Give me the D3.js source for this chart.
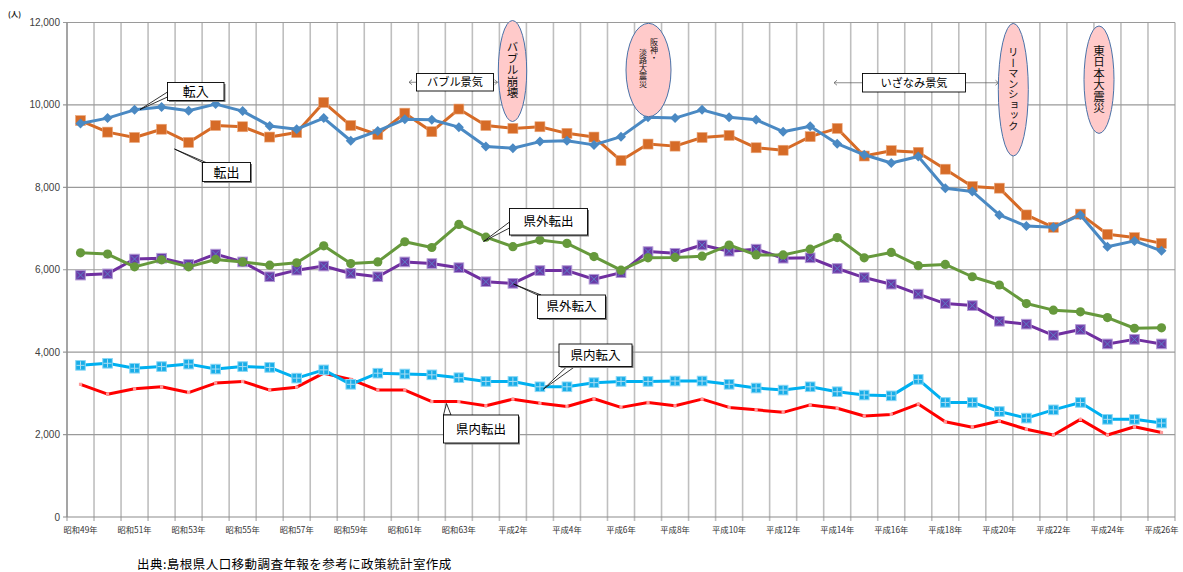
<!DOCTYPE html>
<html lang="ja">
<head>
<meta charset="utf-8">
<script src="https://cdn.jsdelivr.net/npm/d3@7"></script>
<style>
  html, body { margin: 0; padding: 0; background: #fff; }
  svg { display: block; font-family: "Noto Sans CJK JP", "Noto Sans", sans-serif; }
</style>
</head>
<body>
<svg id="chart" width="1183" height="572"></svg>
<script>
// 年次（昭和49年〜平成26年）
const years = [
  "昭和49年","昭和50年","昭和51年","昭和52年","昭和53年","昭和54年","昭和55年","昭和56年",
  "昭和57年","昭和58年","昭和59年","昭和60年","昭和61年","昭和62年","昭和63年","平成元年",
  "平成2年","平成3年","平成4年","平成5年","平成6年","平成7年","平成8年","平成9年",
  "平成10年","平成11年","平成12年","平成13年","平成14年","平成15年","平成16年","平成17年",
  "平成18年","平成19年","平成20年","平成21年","平成22年","平成23年","平成24年","平成25年","平成26年"
];

// 人数（人）
const tennyu = [9550, 9680, 9880, 9950, 9860, 10020, 9850, 9490, 9410, 9680, 9130, 9370, 9650, 9640, 9460, 8990, 8950, 9110, 9130, 9030, 9230, 9700, 9680, 9880, 9700, 9640, 9350, 9480, 9060, 8790, 8590, 8750, 7980, 7900, 7330, 7060, 7030, 7330, 6560, 6700, 6460];
const tenshutsu = [9620, 9340, 9210, 9410, 9090, 9500, 9470, 9220, 9330, 10060, 9500, 9280, 9800, 9350, 9900, 9500, 9430, 9470, 9310, 9220, 8650, 9050, 9000, 9210, 9260, 8960, 8900, 9230, 9430, 8760, 8890, 8850, 8440, 8020, 7980, 7330, 7030, 7350, 6860, 6780, 6640];
const kengaiTenshutsu = [6410, 6380, 6070, 6240, 6070, 6250, 6190, 6110, 6170, 6580, 6150, 6190, 6680, 6540, 7100, 6790, 6560, 6720, 6640, 6320, 5990, 6290, 6300, 6330, 6600, 6360, 6360, 6500, 6780, 6290, 6420, 6100, 6130, 5830, 5630, 5180, 5020, 4980, 4840, 4580, 4590];
const kengaiTennyu = [5870, 5900, 6260, 6280, 6130, 6380, 6190, 5830, 5990, 6090, 5910, 5830, 6190, 6150, 6050, 5710, 5670, 5980, 5980, 5770, 5930, 6440, 6400, 6600, 6450, 6500, 6280, 6290, 6030, 5810, 5650, 5410, 5180, 5130, 4750, 4680, 4410, 4550, 4200, 4310, 4200];
const kennaiTennyu = [3680, 3730, 3610, 3650, 3710, 3590, 3650, 3630, 3370, 3570, 3220, 3490, 3470, 3450, 3380, 3290, 3290, 3160, 3160, 3260, 3290, 3290, 3300, 3300, 3220, 3130, 3080, 3160, 3040, 2960, 2940, 3340, 2780, 2780, 2560, 2400, 2600, 2780, 2370, 2370, 2280];
const kennaiTenshutsu = [3220, 2980, 3110, 3160, 3020, 3250, 3290, 3080, 3150, 3490, 3340, 3080, 3080, 2800, 2800, 2700, 2860, 2760, 2680, 2870, 2660, 2780, 2700, 2860, 2660, 2600, 2540, 2720, 2640, 2450, 2490, 2740, 2310, 2180, 2330, 2130, 1990, 2370, 1990, 2190, 2050];

// 目盛
const yTicks = [0, 2000, 4000, 6000, 8000, 10000, 12000];

const svg = d3.select("#chart");
const plotLeft = 67, plotRight = 1175, plotTop = 22.5, plotBottom = 517;

const x = d3.scaleBand().domain(years).range([plotLeft, plotRight]).padding(0);
const y = d3.scaleLinear().domain([0, 12000]).range([plotBottom, plotTop]);
const cx = d => x(d) + x.bandwidth() / 2;

// 縦の目盛線（各年の境界）
const bounds = years.map(d => x(d)).concat([plotRight]);
svg.append("g").selectAll("line").data(bounds).join("line")
  .attr("x1", d => d).attr("x2", d => d)
  .attr("y1", plotTop).attr("y2", plotBottom + 4)
  .attr("stroke", "#bfbfbf").attr("stroke-width", 1.6);

// 横の目盛線
svg.append("g").selectAll("line").data(yTicks).join("line")
  .attr("x1", plotLeft - 4).attr("x2", plotRight)
  .attr("y1", d => y(d)).attr("y2", d => y(d))
  .attr("stroke", d => d === 0 ? "#8c8c8c" : "#9a9a9a").attr("stroke-width", 1.2);

// Y軸線
svg.append("line").attr("x1", plotLeft).attr("x2", plotLeft).attr("y1", plotTop).attr("y2", plotBottom)
  .attr("stroke", "#8c8c8c").attr("stroke-width", 1.2);

// Y軸ラベル
const fmt = d3.format(",");
svg.append("g").selectAll("text").data(yTicks).join("text")
  .attr("x", plotLeft - 7).attr("y", d => y(d) + 3.5)
  .attr("text-anchor", "end")
  .attr("font-family", "'Liberation Sans', Arial, sans-serif")
  .attr("font-size", 10).attr("fill", "#404040")
  .text(d => fmt(d));

// X軸ラベル（隔年）
svg.append("g").selectAll("text").data(years.filter((d, i) => i % 2 === 0)).join("text")
  .attr("x", d => cx(d)).attr("y", 533)
  .attr("text-anchor", "middle")
  .attr("font-size", 8.3).attr("fill", "#333")
  .text(d => d);

// 単位
svg.append("text").attr("x", 8).attr("y", 17)
  .attr("font-size", 7.5).attr("font-weight", "bold").attr("fill", "#222")
  .text("(人)");

// 系列
const series = [
  { name: "県内転出", values: kennaiTenshutsu, color: "#ff0000", marker: "dot" },
  { name: "県内転入", values: kennaiTennyu, color: "#00b0f0", marker: "plus" },
  { name: "県外転入", values: kengaiTennyu, color: "#7030a0", marker: "cross" },
  { name: "県外転出", values: kengaiTenshutsu, color: "#66993c", marker: "circle" },
  { name: "転出", values: tenshutsu, color: "#d66b27", marker: "square" },
  { name: "転入", values: tennyu, color: "#4a89c3", marker: "diamond" }
];

const line = d3.line().x((d, i) => cx(years[i])).y(d => y(d));

series.forEach(s => {
  const g = svg.append("g");
  g.append("path").datum(s.values)
    .attr("d", line).attr("fill", "none")
    .attr("stroke", s.color).attr("stroke-width", 3)
    .attr("stroke-linejoin", "round");

  const pts = g.append("g").selectAll("g").data(s.values).join("g")
    .attr("transform", (d, i) => `translate(${cx(years[i])},${y(d)})`);

  if (s.marker === "diamond") {
    pts.append("path").attr("d", "M0,-5L5,0L0,5L-5,0Z").attr("fill", s.color);
  } else if (s.marker === "square") {
    pts.append("rect").attr("x", -5).attr("y", -5).attr("width", 10).attr("height", 10)
      .attr("fill", s.color).attr("stroke", "#eaa77c").attr("stroke-width", 0.6);
  } else if (s.marker === "circle") {
    pts.append("circle").attr("r", 4.6).attr("fill", s.color);
  } else if (s.marker === "cross") {
    pts.append("rect").attr("x", -4.8).attr("y", -4.8).attr("width", 9.6).attr("height", 9.6)
      .attr("fill", "#6b3aa6").attr("stroke", "#b39ad6").attr("stroke-width", 1);
    pts.append("path").attr("d", "M-3.5,-3.5L3.5,3.5M3.5,-3.5L-3.5,3.5")
      .attr("stroke", "#5b7fc8").attr("stroke-width", 1);
  } else if (s.marker === "plus") {
    pts.append("rect").attr("x", -4.8).attr("y", -4.8).attr("width", 9.6).attr("height", 9.6)
      .attr("fill", "#17ade8").attr("stroke", "#8ad7f5").attr("stroke-width", 1);
    pts.append("path").attr("d", "M0,-4L0,4M-4,0L4,0")
      .attr("stroke", "#a9ddf3").attr("stroke-width", 1);
  } else if (s.marker === "dot") {
    pts.append("rect").attr("x", -1.6).attr("y", -1.6).attr("width", 3.2).attr("height", 3.2)
      .attr("fill", "#ff9a9a");
  }
});

// 吹き出し
function callout(text, bx, by, bw, bh, base, tip, fs) {
  const g = svg.append("g");
  g.append("polygon")
    .attr("points", [base[0], base[1], tip].map(p => p.join(",")).join(" "))
    .attr("fill", "#fff").attr("stroke", "#000").attr("stroke-width", 0.8);
  g.append("rect").attr("x", bx + 1.5).attr("y", by + 1.5).attr("width", bw).attr("height", bh)
    .attr("fill", "#7f7f7f");
  g.append("rect").attr("x", bx).attr("y", by).attr("width", bw).attr("height", bh)
    .attr("fill", "#fff").attr("stroke", "#000").attr("stroke-width", 0.9);
  g.append("text").attr("x", bx + bw / 2).attr("y", by + bh / 2 + fs * 0.36)
    .attr("text-anchor", "middle").attr("font-size", fs).attr("fill", "#000")
    .text(text);
}
callout("転入", 167.5, 82.5, 56.5, 18, [[167.5, 92], [167.5, 97]], [140, 109.5], 13);
callout("転出", 202.5, 162.5, 48, 19, [[202.5, 162.5], [206, 162.5]], [174.5, 149], 13);
callout("県外転出", 509.5, 208.5, 78, 26.5, [[509.5, 222], [509.5, 228]], [483.5, 241.5], 12.5);
callout("県外転入", 537.5, 295, 68, 23.5, [[537.5, 295], [541, 295]], [513.5, 284], 12.5);
callout("県内転入", 559, 344, 73, 22.5, [[567, 366.5], [575, 366.5]], [543.5, 389], 12.5);
callout("県内転出", 443.5, 415, 75, 28, [[443.5, 415], [451, 415]], [446.5, 403.5], 12.5);

// 景気の期間
function period(text, bx, by, bw, bh, xl, xr) {
  const g = svg.append("g");
  const ym = by + bh / 2;
  g.append("line").attr("x1", xl).attr("x2", bx).attr("y1", ym).attr("y2", ym)
    .attr("stroke", "#595959").attr("stroke-width", 0.7);
  g.append("line").attr("x1", bx + bw).attr("x2", xr).attr("y1", ym).attr("y2", ym)
    .attr("stroke", "#595959").attr("stroke-width", 0.7);
  g.append("path").attr("d", `M${xl + 3},${ym - 2.5}L${xl},${ym}L${xl + 3},${ym + 2.5}`)
    .attr("fill", "none").attr("stroke", "#595959").attr("stroke-width", 0.7);
  g.append("path").attr("d", `M${xr - 3},${ym - 2.5}L${xr},${ym}L${xr - 3},${ym + 2.5}`)
    .attr("fill", "none").attr("stroke", "#595959").attr("stroke-width", 0.7);
  g.append("rect").attr("x", bx).attr("y", by).attr("width", bw).attr("height", bh)
    .attr("fill", "#fff").attr("stroke", "#000").attr("stroke-width", 0.9);
  g.append("text").attr("x", bx + bw / 2).attr("y", ym + 4)
    .attr("text-anchor", "middle").attr("font-size", 11.2).attr("fill", "#000")
    .text(text);
}
period("バブル景気", 416.5, 73.5, 77, 17.5, 409, 497.5);
period("いざなみ景気", 862.5, 73.5, 103, 18.5, 834, 998.5);

// 出来事
function event(cxp, cyp, rx, ry, cols) {
  const g = svg.append("g");
  g.append("ellipse").attr("cx", cxp).attr("cy", cyp).attr("rx", rx).attr("ry", ry)
    .attr("fill", "#ffcaca").attr("stroke", "#4a72a8").attr("stroke-width", 1);
  cols.forEach(c => {
    g.append("text").attr("x", c.x).attr("y", c.y)
      .style("writing-mode", "vertical-rl")
      .attr("text-anchor", c.anchor || "middle")
      .attr("font-size", c.fs).attr("fill", "#111")
      .text(c.t);
  });
}
event(512.5, 71, 14.2, 50.5, [{ t: "バブル崩壊", x: 512.5, y: 70, fs: 11.5 }]);
event(648.5, 70, 22.5, 46.7, [
  { t: "阪神・", x: 654, y: 38, fs: 8, anchor: "start" },
  { t: "淡路大震災", x: 643, y: 48, fs: 8, anchor: "start" }
]);
event(1013.3, 89.7, 15, 66.3, [{ t: "リーマンショック", x: 1013.3, y: 89, fs: 10.5 }]);
event(1099, 79.7, 15, 53.7, [{ t: "東日本大震災", x: 1099, y: 79, fs: 11.5 }]);

// 出典
svg.append("text").attr("x", 137).attr("y", 568.5)
  .attr("font-size", 12.5).attr("letter-spacing", 0.45).attr("fill", "#000")
  .text("出典:島根県人口移動調査年報を参考に政策統計室作成");
</script>
</body>
</html>
